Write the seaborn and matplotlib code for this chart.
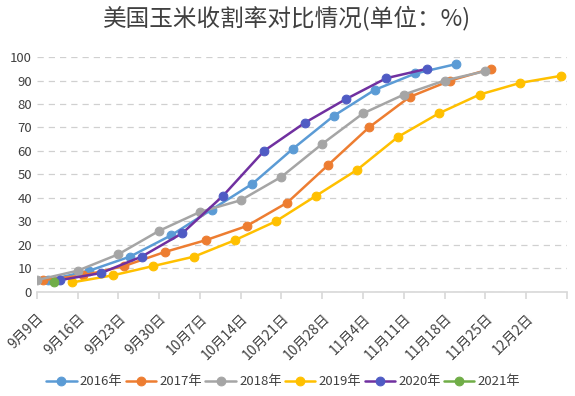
import pandas as pd
import seaborn as sns
import matplotlib.pyplot as plt

# weekly harvest progress (%), dates mapped onto one calendar year
d2016 = ["09-11", "09-18", "09-25", "10-02", "10-09", "10-16", "10-23", "10-30", "11-06", "11-13", "11-20"]
v2016 = [5, 9, 15, 24, 35, 46, 61, 75, 86, 93, 97]
d2017 = ["09-10", "09-17", "09-24", "10-01", "10-08", "10-15", "10-22", "10-29", "11-05", "11-12", "11-19", "11-26"]
v2017 = [5, 7, 11, 17, 22, 28, 38, 54, 70, 83, 90, 95]
d2018 = ["09-09", "09-16", "09-23", "09-30", "10-07", "10-14", "10-21", "10-28", "11-04", "11-11", "11-18", "11-25"]
v2018 = [5, 9, 16, 26, 34, 39, 49, 63, 76, 84, 90, 94]
d2019 = ["09-15", "09-22", "09-29", "10-06", "10-13", "10-20", "10-27", "11-03", "11-10", "11-17", "11-24", "12-01", "12-08"]
v2019 = [4, 7, 11, 15, 22, 30, 41, 52, 66, 76, 84, 89, 92]
d2020 = ["09-13", "09-20", "09-27", "10-04", "10-11", "10-18", "10-25", "11-01", "11-08", "11-15"]
v2020 = [5, 8, 15, 25, 41, 60, 72, 82, 91, 95]
d2021 = ["09-12"]
v2021 = [4]

tick_dates = ["09-09", "09-16", "09-23", "09-30", "10-07", "10-14", "10-21", "10-28",
              "11-04", "11-11", "11-18", "11-25", "12-02", "12-09"]
tick_labels = ["9月9日", "9月16日", "9月23日", "9月30日", "10月7日", "10月14日", "10月21日",
               "10月28日", "11月4日", "11月11日", "11月18日", "11月25日", "12月2日", ""]

series = [
    ("2016年", d2016, v2016, "#5B9BD5", "#5B9BD5"),
    ("2017年", d2017, v2017, "#ED7D31", "#ED7D31"),
    ("2018年", d2018, v2018, "#A5A5A5", "#A5A5A5"),
    ("2019年", d2019, v2019, "#FFC000", "#FFC000"),
    ("2020年", d2020, v2020, "#7030A0", "#4F5BC4"),
    ("2021年", d2021, v2021, "#70AD47", "#70AD47"),
]

def to_dt(days):
    return pd.to_datetime(["2021-" + d for d in days])

sns.set_theme(style="white")
plt.rcParams['font.family'] = ['Noto Sans CJK SC', 'DejaVu Sans']

fig, ax = plt.subplots(figsize=(5.75, 3.96), dpi=100)
fig.subplots_adjust(left=0.064, right=0.986, bottom=0.263, top=0.856)

for name, days, vals, lc, mc in series:
    sns.lineplot(x=to_dt(days), y=vals, ax=ax, color=lc, marker="o", markersize=6.3,
                 markerfacecolor=mc, markeredgecolor=mc, linewidth=1.8, label=name)

ticks = to_dt(tick_dates)
ax.set_xlim(ticks[0], ticks[-1])
ax.set_xticks(ticks)
ax.set_xticklabels(tick_labels, rotation=45, ha="right", rotation_mode="anchor",
                   fontsize=10, color="#404040")
ax.tick_params(axis="x", length=5, color="#D9D9D9", bottom=True, pad=9)
ax.set_ylim(0, 100)
ax.set_yticks(range(0, 101, 10))
ax.tick_params(axis="y", labelsize=9.5, labelcolor="#404040", length=0)
ax.yaxis.grid(True, linestyle=(0, (5, 4)), color="#D0D0D0", linewidth=0.9)
ax.set_axisbelow(True)
sns.despine(ax=ax, left=True)
ax.spines["bottom"].set_color("#D9D9D9")
ax.set_xlabel("")
ax.set_ylabel("")

fig.suptitle("美国玉米收割率对比情况(单位：%)", fontsize=17, color="#404040", y=0.985)
ax.legend(loc="upper center", bbox_to_anchor=(0.465, -0.305), ncol=6, frameon=False,
          fontsize=9.5, handlelength=2.3, handletextpad=0.25, columnspacing=0.25,
          labelcolor="#404040")

fig.savefig("out.png", dpi=100)
